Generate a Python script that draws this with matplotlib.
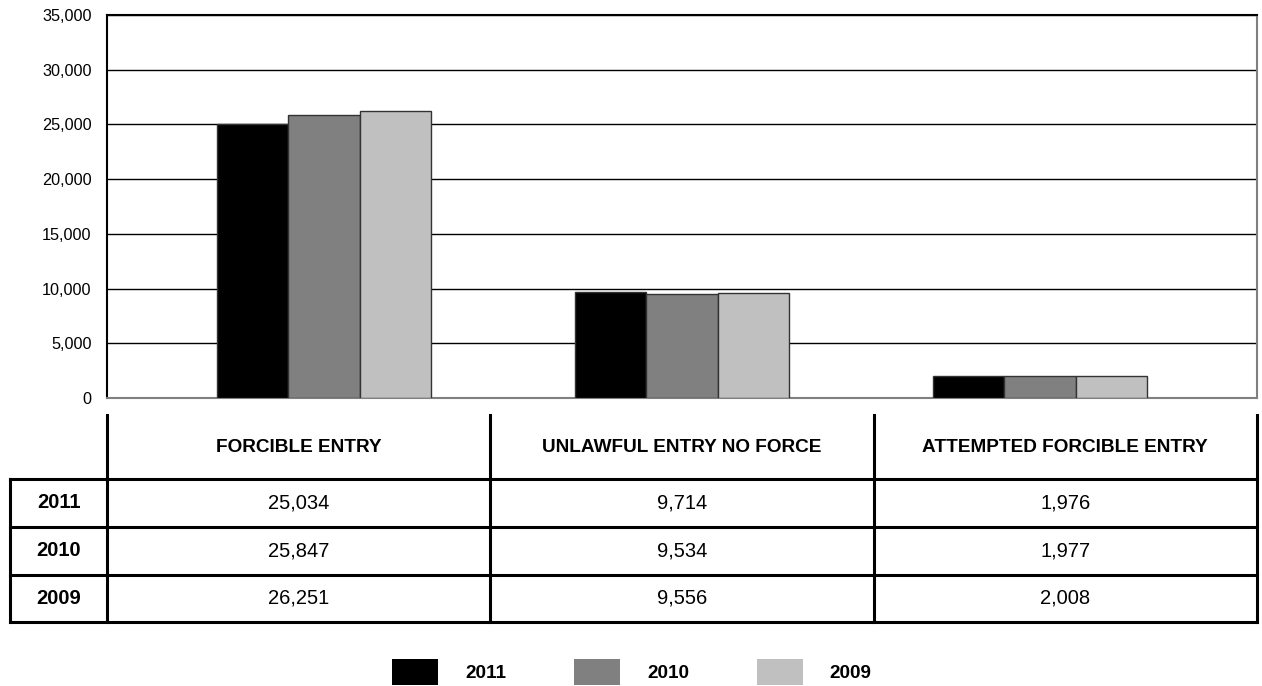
import matplotlib
matplotlib.use("Agg")
import matplotlib.pyplot as plt
from matplotlib.patches import Patch
import numpy as np

plt.rcParams["font.family"] = ["Liberation Sans", "DejaVu Sans"]

# ----------------------------
# Data
# ----------------------------
categories = ["FORCIBLE ENTRY", "UNLAWFUL ENTRY NO FORCE", "ATTEMPTED FORCIBLE ENTRY"]
years = ["2011", "2010", "2009"]
values_2011 = [25034, 9714, 1976]
values_2010 = [25847, 9534, 1977]
values_2009 = [26251, 9556, 2008]
series = [values_2011, values_2010, values_2009]
colors = ["#000000", "#808080", "#c0c0c0"]

W, H = 1262, 686
fig = plt.figure(figsize=(W / 100, H / 100), dpi=100)

# main plot area in pixels
ax_left, ax_right, ax_top, ax_bottom = 107, 1257, 15, 398
ax = fig.add_axes([ax_left / W, 1 - ax_bottom / H,
                   (ax_right - ax_left) / W, (ax_bottom - ax_top) / H])

# ----------------------------
# Bars
# ----------------------------
x = np.arange(len(categories))
bar_w = 0.2
for i, (vals, c) in enumerate(zip(series, colors)):
    ax.bar(x + (i - 1) * bar_w, vals, width=bar_w, color=c,
           edgecolor="#333333", linewidth=1, zorder=3)

ax.set_xlim(-0.606, 2.606)
ax.set_ylim(0, 35000)
ax.set_yticks(range(0, 35001, 5000))
ax.set_yticklabels([f"{v:,}" for v in range(0, 35001, 5000)], fontsize=11.7)
ax.set_xticks([])
ax.tick_params(axis="y", length=0, pad=11)
ax.grid(True, axis="y", color="#000000", linewidth=1)
ax.set_axisbelow(True)

ax.spines["left"].set_color("#000000")
ax.spines["top"].set_color("#000000")
ax.spines["right"].set_color("#808080")
ax.spines["bottom"].set_color("#808080")
for s in ax.spines.values():
    s.set_linewidth(1.5)

# ----------------------------
# Data table below
# ----------------------------
tab = fig.add_axes([0, 0, 1, 1])
tab.set_xlim(0, W)
tab.set_ylim(H, 0)
tab.axis("off")

col_edges = np.linspace(ax_left, ax_right, len(categories) + 1)
row_label_left = 10
header_top = 415
row_lines = [479, 527, 575, 622]
lw = 2.2

for xe in col_edges:
    tab.plot([xe, xe], [header_top, row_lines[-1]], color="black", linewidth=lw,
             solid_capstyle="projecting")
tab.plot([row_label_left, row_label_left], [row_lines[0], row_lines[-1]],
         color="black", linewidth=lw, solid_capstyle="projecting")
for yl in row_lines:
    tab.plot([row_label_left, ax_right], [yl, yl], color="black", linewidth=lw,
             solid_capstyle="projecting")

col_centers = (col_edges[:-1] + col_edges[1:]) / 2
header_y = (header_top + row_lines[0]) / 2
for cx, cat in zip(col_centers, categories):
    tab.text(cx, header_y, cat, ha="center", va="center",
             fontsize=13.7, fontweight="bold")

for r, (yr, vals) in enumerate(zip(years, series)):
    cy = (row_lines[r] + row_lines[r + 1]) / 2
    tab.text((row_label_left + ax_left) / 2, cy, yr, ha="center", va="center",
             fontsize=14.5, fontweight="bold")
    for cx, v in zip(col_centers, vals):
        tab.text(cx, cy, f"{v:,}", ha="center", va="center", fontsize=14.5)

# ----------------------------
# Legend
# ----------------------------
handles = [Patch(facecolor=c, edgecolor="none") for c in colors]
leg = fig.legend(handles, years, loc="center", bbox_to_anchor=(632 / W, 1 - 672 / H),
                 ncol=3, frameon=False, handlelength=2.43, handleheight=1.75,
                 handletextpad=1.43, columnspacing=3.6,
                 prop={"size": 13.6, "weight": "bold"})

fig.savefig("out.png", dpi=100)
